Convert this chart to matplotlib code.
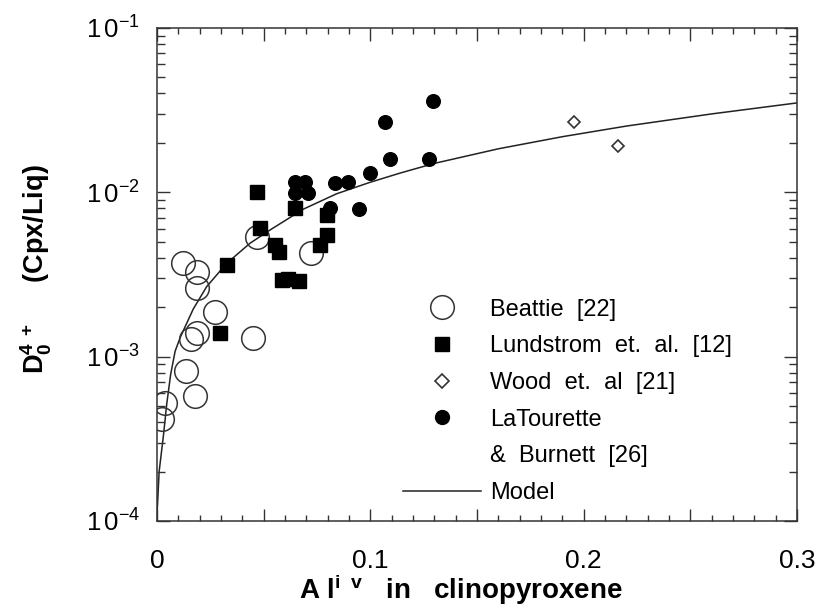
import matplotlib
matplotlib.use('Agg')
import matplotlib.pyplot as plt
from matplotlib.lines import Line2D
from matplotlib.ticker import MultipleLocator, LogLocator, FixedFormatter, FixedLocator, NullFormatter

plt.rcParams['font.family'] = 'Liberation Sans'
plt.rcParams['mathtext.fontset'] = 'custom'
plt.rcParams['mathtext.rm'] = 'Liberation Sans'
plt.rcParams['mathtext.bf'] = 'Liberation Sans:bold'
plt.rcParams['mathtext.it'] = 'Liberation Sans:italic'

# Beattie [22]
beattie_x = [0.0123, 0.0186, 0.0186, 0.0272, 0.0186, 0.0158, 0.0451, 0.0136, 0.0178, 0.0038, 0.0022, 0.0467, 0.0721]
beattie_y = [3.73e-3, 3.29e-3, 2.61e-3, 1.88e-3, 1.40e-3, 1.28e-3, 1.29e-3, 8.2e-4, 5.75e-4, 5.2e-4, 4.15e-4, 5.32e-3, 4.25e-3]

# Lundstrom et. al. [12]
lund_x = [0.0467, 0.0483, 0.0327, 0.0295, 0.0553, 0.0573, 0.0585, 0.0612, 0.0664, 0.0647, 0.0764, 0.0796, 0.0796]
lund_y = [1.01e-2, 6.1e-3, 3.61e-3, 1.40e-3, 4.78e-3, 4.36e-3, 2.92e-3, 2.95e-3, 2.90e-3, 8.0e-3, 4.78e-3, 5.5e-3, 7.28e-3]

# Wood et. al [21]
wood_x = [0.1956, 0.216]
wood_y = [2.69e-2, 1.91e-2]

# LaTourette & Burnett [26]
lat_x = [0.0647, 0.0694, 0.0647, 0.0709, 0.0834, 0.0897, 0.0811, 0.0948, 0.0999, 0.1092, 0.1069, 0.1295, 0.1277]
lat_y = [1.16e-2, 1.16e-2, 9.95e-3, 9.9e-3, 1.145e-2, 1.16e-2, 8.0e-3, 7.9e-3, 1.31e-2, 1.59e-2, 2.69e-2, 3.61e-2, 1.59e-2]

# Model curve
model_x = [0.0, 0.0003, 0.001, 0.003, 0.0046, 0.0064, 0.0085, 0.011, 0.017, 0.0233, 0.0327, 0.0436,
           0.053, 0.0686, 0.0842, 0.0998, 0.114, 0.13, 0.16, 0.19, 0.22, 0.26, 0.3]
model_y = [1.1e-4, 1.3e-4, 2.0e-4, 3.3e-4, 5.2e-4, 7.8e-4, 1.08e-3, 1.32e-3, 1.95e-3, 2.67e-3, 3.7e-3, 4.9e-3,
           5.9e-3, 7.9e-3, 9.8e-3, 1.15e-2, 1.31e-2, 1.5e-2, 1.84e-2, 2.18e-2, 2.53e-2, 3.0e-2, 3.5e-2]

x_ticks = [0, 0.05, 0.1, 0.15, 0.2, 0.25, 0.3]
x_ticklabels = ['0', '', '0.1', '', '0.2', '', '0.3']
y_ticks = [1e-4, 1e-3, 1e-2, 1e-1]
y_ticklabels = [r'$\mathdefault{1\,0^{-4}}$', r'$\mathdefault{1\,0^{-3}}$',
                r'$\mathdefault{1\,0^{-2}}$', r'$\mathdefault{1\,0^{-1}}$']

fig = plt.figure(figsize=(8.22, 6.11), dpi=100)
ax = fig.add_axes([0.191, 0.1473, 0.7786, 0.8069])

ax.plot(model_x, model_y, color='#222222', lw=1.1, zorder=1)
ax.plot(beattie_x, beattie_y, 'o', ms=17, mfc='none', mec='#333333', mew=1.1, zorder=2)
ax.plot(lund_x, lund_y, 's', ms=9.5, color='black', zorder=3)
ax.plot(wood_x, wood_y, 'D', ms=6.5, mfc='white', mec='#333333', mew=1.2, zorder=3)
ax.plot(lat_x, lat_y, 'o', ms=9.8, color='black', zorder=3)

ax.set_yscale('log')
ax.set_xlim(0, 0.3)
ax.set_ylim(1e-4, 1e-1)

ax.xaxis.set_major_locator(FixedLocator(x_ticks))
ax.xaxis.set_major_formatter(FixedFormatter(x_ticklabels))
ax.xaxis.set_minor_locator(MultipleLocator(0.01))
ax.yaxis.set_major_locator(FixedLocator(y_ticks))
ax.yaxis.set_major_formatter(FixedFormatter(y_ticklabels))
ax.yaxis.set_minor_locator(LogLocator(base=10, subs=range(2, 10)))
ax.yaxis.set_minor_formatter(NullFormatter())

ax.tick_params(which='both', direction='in', top=True, right=True, color='#333333', width=1.0)
ax.tick_params(axis='x', which='major', length=9, labelsize=19, pad=20)
ax.tick_params(axis='x', which='minor', length=4.5)
ax.tick_params(axis='y', which='major', length=9.5, labelsize=18.5, pad=12)
ax.tick_params(axis='y', which='minor', length=6)
for s in ax.spines.values():
    s.set_linewidth(1.1)
    s.set_color('#333333')

ax.set_xlabel(r'$\mathbf{A\ l^{i\ \ v}}$   in   clinopyroxene', fontsize=20, fontweight='bold', va='center')
ax.xaxis.set_label_coords(0.475, -0.14)
ax.set_ylabel(r'$\mathbf{D_0^{4\ +}}$     (Cpx/Liq)', fontsize=19.5, fontweight='bold', va='center')
ax.yaxis.set_label_coords(-0.188, 0.51)

handles = [
    Line2D([], [], ls='none', marker='o', ms=17, mfc='none', mec='#333333', mew=1.1),
    Line2D([], [], ls='none', marker='s', ms=10, color='black'),
    Line2D([], [], ls='none', marker='D', ms=7, mfc='white', mec='#333333', mew=1.2),
    Line2D([], [], ls='none', marker='o', ms=10, color='black'),
    Line2D([], [], ls='none'),
    Line2D([], [], color='#222222', lw=1.1),
]
labels = ['Beattie  [22]', 'Lundstrom  et.  al.  [12]', 'Wood  et.  al  [21]', 'LaTourette',
          '&  Burnett  [26]', 'Model']
ax.legend(handles, labels, loc='upper left', bbox_to_anchor=(0.384, 0.451), frameon=False,
          fontsize=17, handlelength=3.3, handletextpad=0.38, labelspacing=0.62,
          borderpad=0, borderaxespad=0)

fig.savefig('out.png', dpi=100)
